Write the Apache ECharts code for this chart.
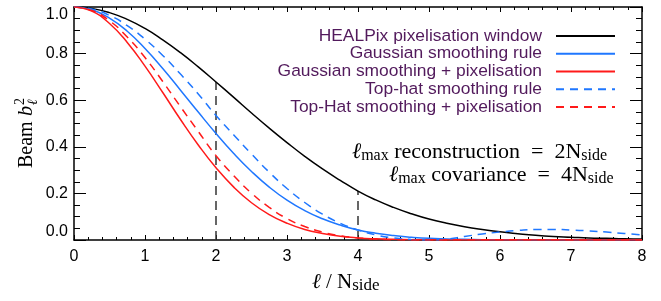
<!DOCTYPE html>
<html><head><meta charset="utf-8">
<script src="https://cdn.jsdelivr.net/npm/echarts@6/dist/echarts.min.js"></script>
<style>html,body{margin:0;padding:0;background:#fff}#c{width:661px;height:301px}</style>
</head><body><div id="c"></div>
<script>
// l / N_side sample positions
const ell = [0,0.25,0.5,0.75,1,1.25,1.5,1.75,2,2.25,2.5,2.75,3,3.25,3.5,3.75,4,4.25,4.5,4.75,5,5.25,5.5,5.75,6,6.25,6.5,6.75,7,7.25,7.5,7.75,8];
// HEALPix pixelisation window
const healpix = [1,0.994,0.976,0.947,0.908,0.859,0.804,0.743,0.678,0.612,0.545,0.480,0.418,0.359,0.305,0.256,0.210,0.172,0.140,0.113,0.090,0.072,0.057,0.045,0.035,0.027,0.020,0.015,0.012,0.009,0.007,0.005,0.004];
// Gaussian smoothing rule
const gauss = [1,0.988,0.952,0.896,0.822,0.736,0.643,0.549,0.457,0.371,0.294,0.227,0.171,0.126,0.091,0.064,0.043,0.029,0.019,0.012,0.007,0.0045,0.0027,0.0015,0.0009,0.0005,0.0003,0.0002,0.0001,0.0001,0,0,0];
// Gaussian smoothing + pixelisation
const gaussPix = [1,0.982,0.929,0.848,0.746,0.633,0.517,0.408,0.310,0.227,0.160,0.109,0.072,0.045,0.028,0.016,0.009,0.005,0.0027,0.0013,0.0007,0.0003,0.0002,0.0001,0,0,0,0,0,0,0,0,0];
// Top-hat smoothing rule
const tophat = [1,0.991,0.964,0.920,0.862,0.792,0.712,0.627,0.534,0.451,0.369,0.291,0.221,0.161,0.111,0.072,0.043,0.022,0.009,0.002,0.000,0.004,0.015,0.026,0.034,0.041,0.045,0.045,0.043,0.039,0.034,0.028,0.022];
// Top-Hat smoothing + pixelisation
const tophatPix = [1,0.985,0.941,0.871,0.783,0.680,0.572,0.466,0.362,0.276,0.201,0.140,0.092,0.058,0.034,0.018,0.009,0.004,0.0013,0.0002,0,0.0003,0.0008,0.0011,0.0011,0.0010,0.0009,0.0007,0.0005,0.0004,0.0002,0.0002,0.0001];
// vertical guide lines (l_max reconstruction / covariance)
const guideX = [2, 4];
const xTicks = [0,1,2,3,4,5,6,7,8];
const yTicks = [0,0.2,0.4,0.6,0.8,1.0];

const names = ['HEALPix pixelisation window','Gaussian smoothing rule','Gaussian smoothing + pixelisation','Top-hat smoothing rule','Top-Hat smoothing + pixelisation'];
const arrs = [healpix, gauss, gaussPix, tophat, tophatPix];
const colors = ['#000000','#1f77ff','#ff1a1a','#1f77ff','#ff1a1a'];
const dashed = [false,false,false,true,true];

const pairs = a => ell.map((x,i)=>[x,a[i]]);
const series = names.map((n,k)=>({
  name:n, type:'line', data:pairs(arrs[k]), symbol:'circle', showSymbol:false, smooth:true,
  lineStyle:{color:colors[k], width:1.5, type: dashed[k]?[8,6]:'solid'},
  itemStyle:{color:colors[k]}, z: 3+k, silent:true
}));
guideX.forEach(gx=>{
  const top = healpix[ell.indexOf(gx)];
  series.push({type:'line', data:[[gx,0],[gx,top]], symbol:'none',
    lineStyle:{color:'#333', width:1.5, type:[9,6]}, z:2, silent:true});
});

const axisLine = {show:true, onZero:false, lineStyle:{color:'#000', width:1.5}};
const serif = 'Liberation Serif';
const richMath = (fs, ss) => ({
  i:{fontFamily:serif, fontStyle:'italic', fontSize:fs, lineHeight:24},
  t:{fontFamily:serif, fontSize:fs, lineHeight:24},
  s:{fontFamily:serif, fontSize:ss, lineHeight:6, verticalAlign:'bottom'}
});
const opt = {
  animation:false,
  backgroundColor:'#fff',
  grid:{left:74, right:19, top:7, bottom:61},
  xAxis:[
    {type:'value', min:0, max:8, interval:1, position:'bottom', axisLine,
     axisTick:{inside:true, length:5, lineStyle:{color:'#000', width:1}},
     minorTick:{show:true, splitNumber:5, length:3, lineStyle:{color:'#000', width:1}},
     axisLabel:{fontSize:16, color:'#000', fontFamily:'Liberation Sans', margin:9},
     splitLine:{show:false}},
    {type:'value', min:0, max:8, interval:1, position:'top', axisLine,
     axisTick:{inside:true, length:5, lineStyle:{color:'#000', width:1}},
     minorTick:{show:true, splitNumber:5, length:3, lineStyle:{color:'#000', width:1}},
     axisLabel:{show:false}, splitLine:{show:false}}
  ],
  yAxis:[
    {type:'value', min:0, max:1, interval:0.2, position:'left', axisLine,
     axisTick:{inside:true, length:12, lineStyle:{color:'#000', width:1}},
     minorTick:{show:true, splitNumber:4, length:6, lineStyle:{color:'#000', width:1}},
     axisLabel:{fontSize:16, color:'#000', fontFamily:'Liberation Sans', margin:6,
       formatter:v=>v.toFixed(1), verticalAlignMinLabel:'bottom', verticalAlignMaxLabel:'top'},
     splitLine:{show:false}},
    {type:'value', min:0, max:1, interval:0.2, position:'right', axisLine,
     axisTick:{inside:true, length:12, lineStyle:{color:'#000', width:1}},
     minorTick:{show:true, splitNumber:4, length:6, lineStyle:{color:'#000', width:1}},
     axisLabel:{show:false}, splitLine:{show:false}}
  ],
  legend:{
    data:names, orient:'vertical', right:40, top:22, align:'right',
    itemWidth:59, itemHeight:10, itemGap:0, selectedMode:false,
    itemStyle:{opacity:0},
    textStyle:{color:'#521a5c', fontSize:17.4, fontFamily:'Liberation Sans', lineHeight:17.8, padding:[0,9,0,0]}
  },
  series,
  graphic:[
    {type:'text', left:352, top:141, style:{
      text:'{i|ℓ}{s|max}{t| reconstruction\u2002=\u20022N}{s|side}', rich:richMath(22,16), fill:'#000'}},
    {type:'text', left:389, top:164, style:{
      text:'{i|ℓ}{s|max}{t| covariance\u2002=\u20024N}{s|side}', rich:richMath(22,16), fill:'#000'}},
    {type:'text', left:312, top:272, style:{
      text:'{i|ℓ}{t| / N}{s|side}', rich:richMath(21,17), fill:'#000'}},
    {type:'group', x:27, y:168, rotation:Math.PI/2, children:[
      {type:'text', x:0, y:0, style:{text:'Beam', font:'20px "Liberation Serif"', fill:'#000', verticalAlign:'middle'}},
      {type:'text', x:52, y:0, style:{text:'b', font:'italic 20px "Liberation Serif"', fill:'#000', verticalAlign:'middle'}},
      {type:'text', x:63, y:-7, style:{text:'2', font:'14px "Liberation Serif"', fill:'#000', verticalAlign:'middle'}},
      {type:'text', x:63, y:6, style:{text:'ℓ', font:'italic 14px "Liberation Serif"', fill:'#000', verticalAlign:'middle'}}
    ]}
  ]
};
const chart = echarts.init(document.getElementById('c'), null, {renderer:'canvas'});
chart.setOption(opt);
</script>
</body></html>
